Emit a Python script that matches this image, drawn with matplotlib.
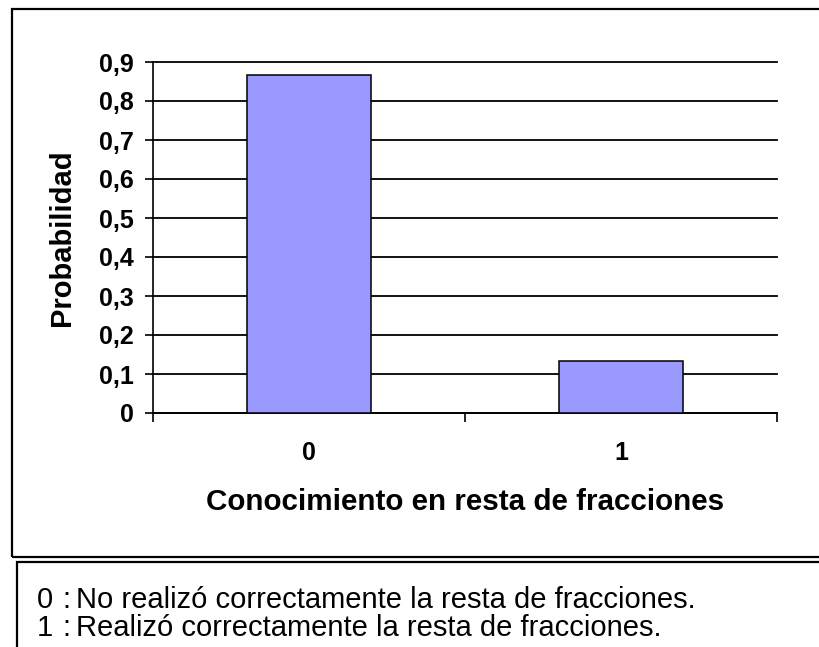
import matplotlib.pyplot as plt
from matplotlib.patches import Rectangle
from matplotlib.ticker import FixedLocator
import numpy as np

plt.rcParams['font.family'] = ['Liberation Sans', 'DejaVu Sans']

categorias = ["0", "1"]
probabilidad = [0.867, 0.133]
yticks = [0, 0.1, 0.2, 0.3, 0.4, 0.5, 0.6, 0.7, 0.8, 0.9]
ytick_labels = ["0", "0,1", "0,2", "0,3", "0,4", "0,5", "0,6", "0,7", "0,8", "0,9"]
leyenda = ["No realizó correctamente la resta de fracciones.",
           "Realizó correctamente la resta de fracciones."]

W, H = 820, 647
fig = plt.figure(figsize=(W / 100, H / 100), dpi=100)

def fx(px):
    return px / W

def fy(py):
    return 1 - py / H

# axes box in pixels: left 153, right 777, top 62, bottom 413
ax = fig.add_axes([fx(153), fy(413), fx(777) - fx(153), fy(62) - fy(413)])

x = np.arange(len(categorias))
ax.bar(x, probabilidad, width=0.4, color="#9999FF", edgecolor="black", linewidth=1.1, zorder=3)

ax.set_xlim(-0.5, 1.5)
ax.set_ylim(0, 0.9)
ax.set_yticks(yticks)
ax.set_yticklabels(ytick_labels, fontsize=18, fontweight="bold")
ax.set_xticks(x)
ax.set_xticklabels(categorias, fontsize=18, fontweight="bold")
ax.xaxis.set_minor_locator(FixedLocator([-0.5, 0.5, 1.5]))
ax.tick_params(axis="x", which="major", length=0, pad=20.5)
ax.tick_params(axis="x", which="minor", length=6.5, width=1.2, direction="out")
ax.tick_params(axis="y", length=5.8, width=1.2, direction="out", pad=8)

ax.yaxis.grid(True, color="black", linewidth=1.3)
for gl in ax.get_ygridlines():
    gl.set_clip_on(False)
ax.set_axisbelow(True)
for s in ["top", "right"]:
    ax.spines[s].set_visible(False)
for s in ["left", "bottom"]:
    ax.spines[s].set_linewidth(1.2)

fig.text(fx(465), fy(502), "Conocimiento en resta de fracciones", fontsize=21.3,
         fontweight="bold", ha="center", va="center")
fig.text(fx(62), fy(238), "Probabilidad", fontsize=21, fontweight="bold",
         rotation=90, ha="center", va="center")

# outer chart frame and the note box below
fig.patches.append(Rectangle((fx(12), fy(557)), 1.2, fy(9) - fy(557), transform=fig.transFigure,
                             fill=False, edgecolor="black", linewidth=1.6))
fig.patches.append(Rectangle((fx(17), -0.2), 1.2, fy(561.5) + 0.2, transform=fig.transFigure,
                             fill=False, edgecolor="black", linewidth=1.6))

for i, (c, t) in enumerate(zip(categorias, leyenda)):
    yy = fy(600 + 28 * i)
    fig.text(fx(37), yy, c, fontsize=21, ha="left", va="center")
    fig.text(fx(62), yy, ":", fontsize=21, ha="left", va="center")
    fig.text(fx(76), yy, t, fontsize=21, ha="left", va="center")

plt.savefig("out.png", dpi=100)
